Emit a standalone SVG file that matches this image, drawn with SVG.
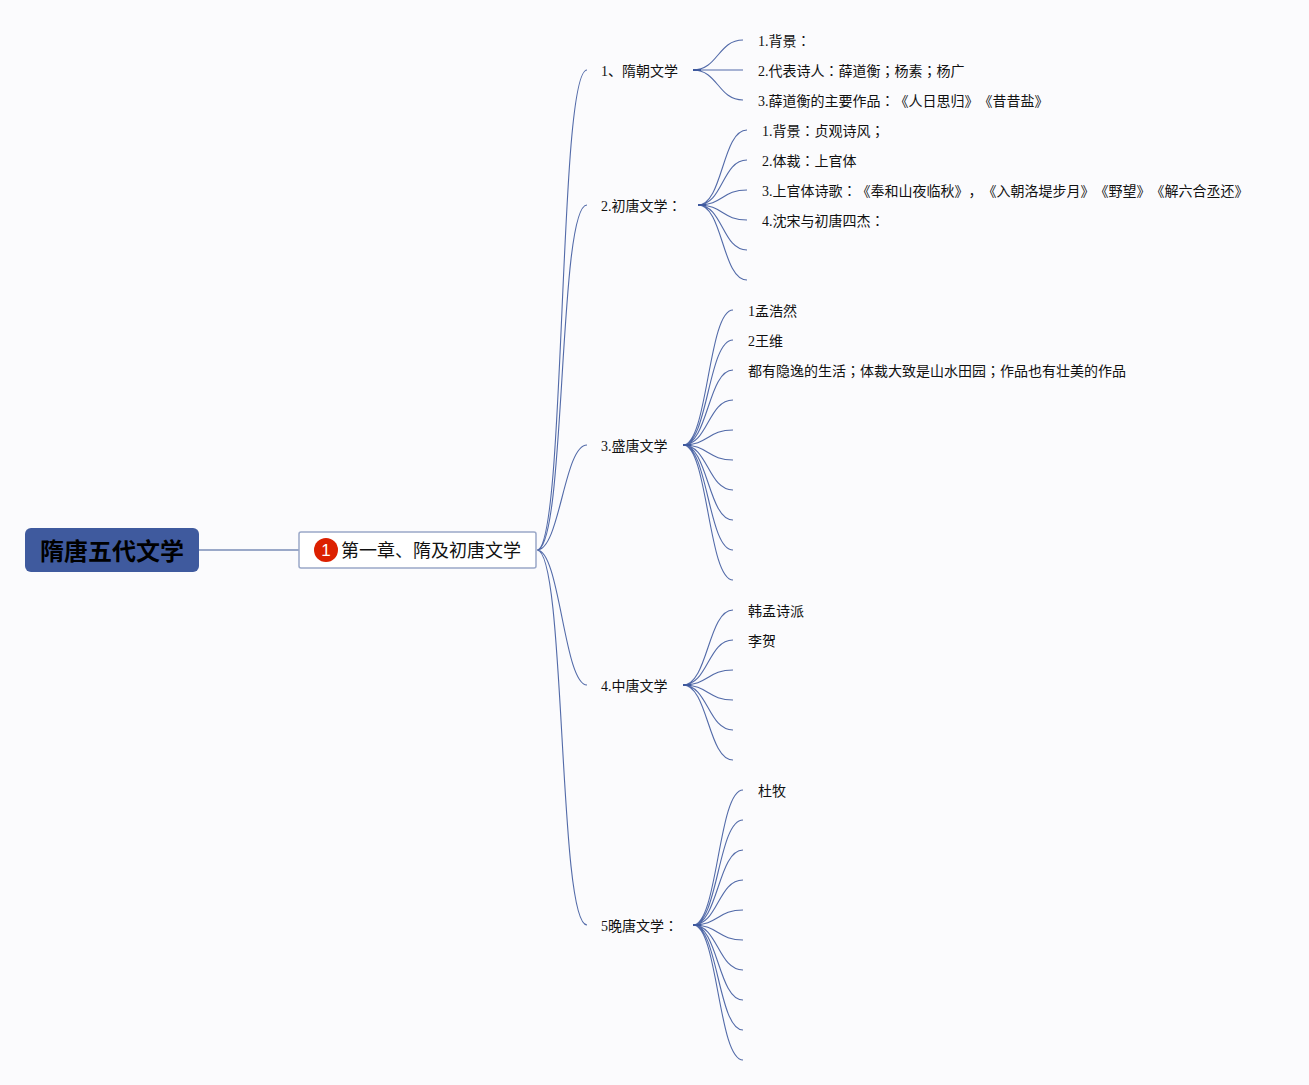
<svg xmlns="http://www.w3.org/2000/svg" width="1309" height="1085" viewBox="0 0 1309 1085">
<style>
text{font-family:"Liberation Serif","Noto Sans CJK SC",serif;font-size:14px;fill:#111;font-feature-settings:"chws" 0,"palt" 0,"halt" 0;text-spacing-trim:space-all}
tspan.p{font-family:"Noto Sans CJK TC",sans-serif}
.c{fill:none;stroke:#3f5a9e;stroke-width:1.1;stroke-opacity:.9}
.s{fill:none;stroke:#3f5a9e;stroke-width:2}
.r{fill:none;stroke:#9aa8c8;stroke-width:2}
</style>
<rect width="1309" height="1085" fill="#fbfbfd"/>
<g id="connectors">
<path class="r" d="M199 550H299"/>
<path class="c" d="M537 550C566 550 558 70 587 70M537 550C566 550 558 205 587 205M537 550C560 550 564 445 587 445M537 550C560 550 564 685 587 685M537 550C566 550 558 925 587 925"/>
<path class="s" d="M693 70H701M698 205H706M683 445H691M683 685H691M693 925H701"/>
<path class="c" d="M693 70C718 70 718 40 743 40M693 70H743M693 70C718 70 718 100 743 100"/>
<path class="c" d="M698 205C723 205 722 130 747 130M698 205C723 205 722 160 747 160M698 205C723 205 722 190 747 190M698 205C723 205 722 220 747 220M698 205C723 205 722 250 747 250M698 205C723 205 722 280 747 280"/>
<path class="c" d="M683 445C708 445 708 310 733 310M683 445C708 445 708 340 733 340M683 445C708 445 708 370 733 370M683 445C708 445 708 400 733 400M683 445C708 445 708 430 733 430M683 445C708 445 708 460 733 460M683 445C708 445 708 490 733 490M683 445C708 445 708 520 733 520M683 445C708 445 708 550 733 550M683 445C708 445 708 580 733 580"/>
<path class="c" d="M683 685C708 685 708 610 733 610M683 685C708 685 708 640 733 640M683 685C708 685 708 670 733 670M683 685C708 685 708 700 733 700M683 685C708 685 708 730 733 730M683 685C708 685 708 760 733 760"/>
<path class="c" d="M693 925C718 925 718 790 743 790M693 925C718 925 718 820 743 820M693 925C718 925 718 850 743 850M693 925C718 925 718 880 743 880M693 925C718 925 718 910 743 910M693 925C718 925 718 940 743 940M693 925C718 925 718 970 743 970M693 925C718 925 718 1000 743 1000M693 925C718 925 718 1030 743 1030M693 925C718 925 718 1060 743 1060"/>
</g>
<g id="root"><rect x="25" y="528" width="174" height="44" rx="6" fill="#3f5a9e"/><text x="112" y="560" text-anchor="middle" style="font-size:24px;font-weight:700;font-family:'Noto Sans CJK SC',sans-serif;fill:#000">隋唐五代文学</text></g>
<g id="chapter"><rect x="299" y="532" width="237" height="36" rx="2" fill="#fff" stroke="#9aa8c8" stroke-width="1.5"/><circle cx="326" cy="550" r="12" fill="#dc2000"/><text x="326" y="556" text-anchor="middle" style="font-family:'Liberation Sans',sans-serif;font-size:17px;fill:#fff">1</text><text x="341" y="557" style="font-size:18px">第一章、隋及初唐文学</text></g>
<g id="n1"><text x="601" y="76">1、隋朝文学</text></g>
<g id="n11"><text x="758" y="46">1.背景<tspan class="p">：</tspan></text></g>
<g id="n12"><text x="758" y="76">2.代表诗人<tspan class="p">：</tspan>薛道衡<tspan class="p">；</tspan>杨素<tspan class="p">；</tspan>杨广</text></g>
<g id="n13"><text x="758" y="106">3.薛道衡的主要作品<tspan class="p">：</tspan>《人日思归》《昔昔盐》</text></g>
<g id="n2"><text x="601" y="211">2.初唐文学<tspan class="p">：</tspan></text></g>
<g id="n21"><text x="762" y="136">1.背景<tspan class="p">：</tspan>贞观诗风<tspan class="p">；</tspan></text></g>
<g id="n22"><text x="762" y="166">2.体裁<tspan class="p">：</tspan>上官体</text></g>
<g id="n23"><text x="762" y="196">3.上官体诗歌<tspan class="p">：</tspan>《奉和山夜临秋》，《入朝洛堤步月》《野望》《解六合丞还》</text></g>
<g id="n24"><text x="762" y="226">4.沈宋与初唐四杰<tspan class="p">：</tspan></text></g>
<g id="n3"><text x="601" y="451">3.盛唐文学</text></g>
<g id="n31"><text x="748" y="316">1孟浩然</text></g>
<g id="n32"><text x="748" y="346">2王维</text></g>
<g id="n33"><text x="748" y="376">都有隐逸的生活<tspan class="p">；</tspan>体裁大致是山水田园<tspan class="p">；</tspan>作品也有壮美的作品</text></g>
<g id="n4"><text x="601" y="691">4.中唐文学</text></g>
<g id="n41"><text x="748" y="616">韩孟诗派</text></g>
<g id="n42"><text x="748" y="646">李贺</text></g>
<g id="n5"><text x="601" y="931">5晚唐文学<tspan class="p">：</tspan></text></g>
<g id="n51"><text x="758" y="796">杜牧</text></g>
</svg>
